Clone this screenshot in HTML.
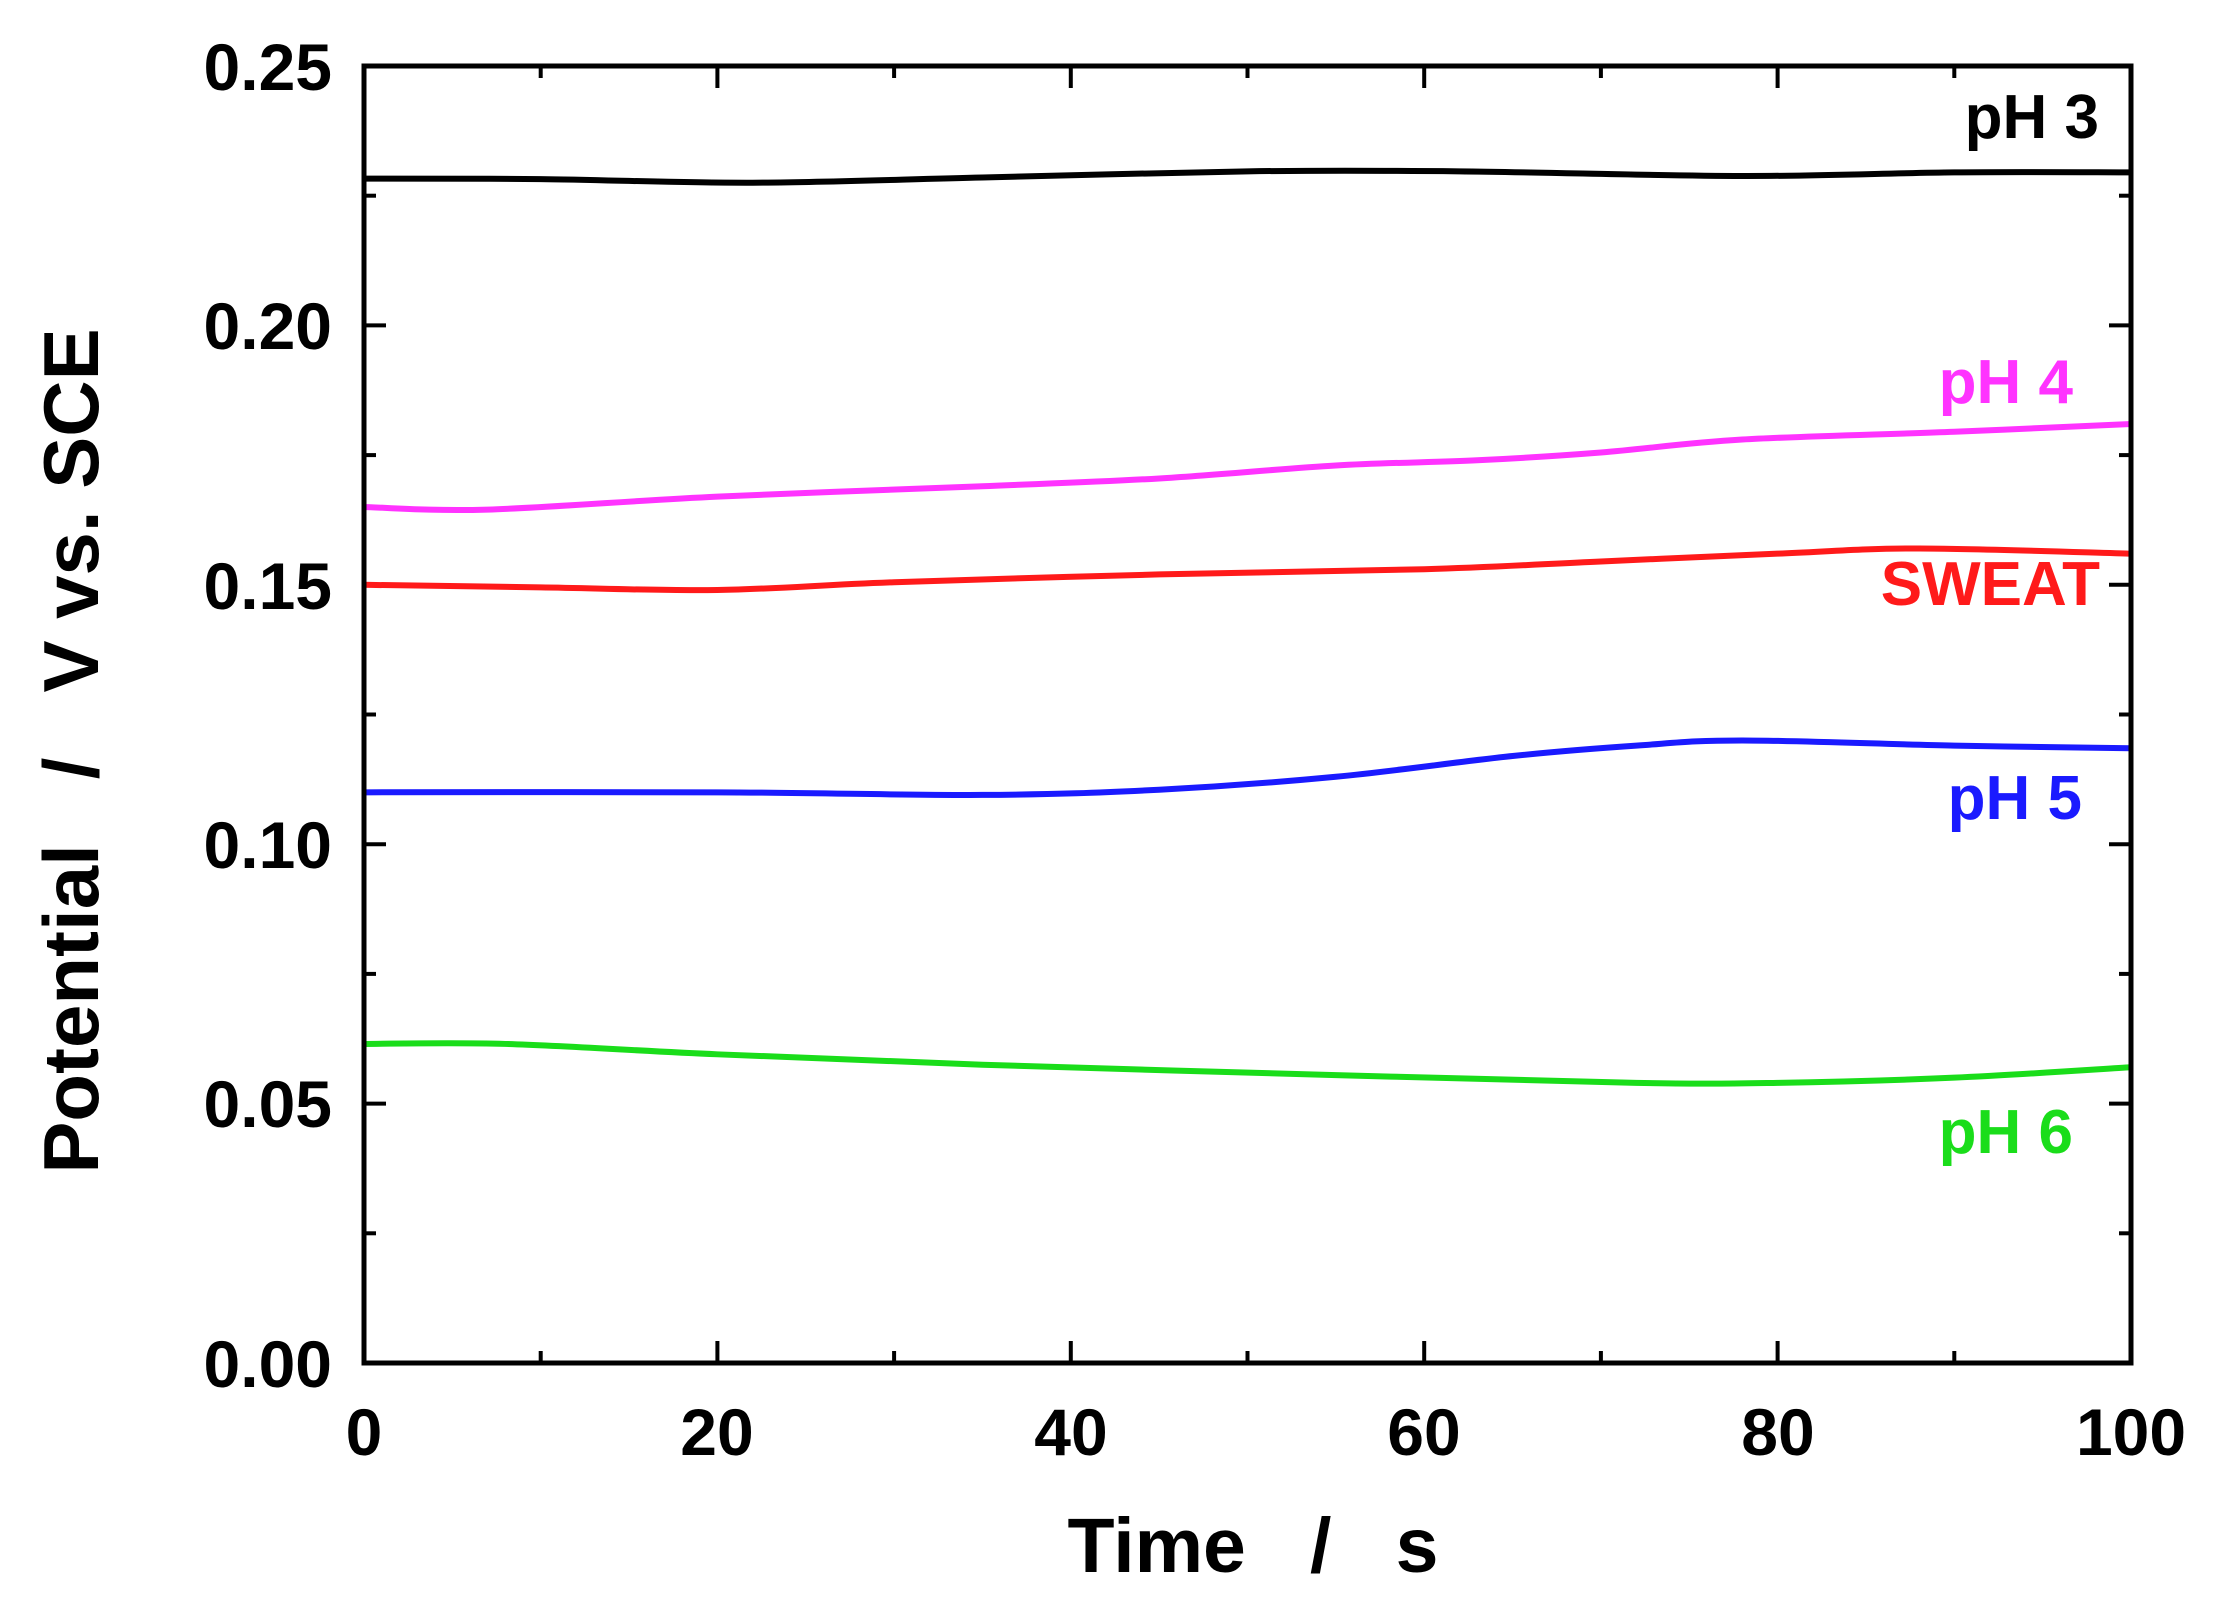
<!DOCTYPE html>
<html><head><meta charset="utf-8"><style>
html,body{margin:0;padding:0;background:#fff;}
svg{display:block;}
text{font-family:"Liberation Sans",Arial,sans-serif;font-weight:bold;}
</style></head><body>
<svg id="s" width="2222" height="1611" viewBox="0 0 2222 1611" xmlns="http://www.w3.org/2000/svg">
<rect width="2222" height="1611" fill="#fff"/>
<g id="ticks" stroke="#000" stroke-width="4"></g>
<g id="series" fill="none" stroke-width="6"></g>
<rect x="364" y="66" width="1767" height="1297" fill="none" stroke="#000" stroke-width="5"/>
<g font-size="66" text-anchor="end">
<text x="332" y="90">0.25</text>
<text x="332" y="349">0.20</text>
<text x="332" y="609">0.15</text>
<text x="332" y="868">0.10</text>
<text x="332" y="1127">0.05</text>
<text x="332" y="1387">0.00</text>
</g>
<g font-size="66" text-anchor="middle">
<text x="364" y="1455">0</text>
<text x="717" y="1455">20</text>
<text x="1071" y="1455">40</text>
<text x="1424" y="1455">60</text>
<text x="1778" y="1455">80</text>
<text x="2131" y="1455">100</text>
</g>
<text x="1253" y="1572" font-size="77" text-anchor="middle" xml:space="preserve">Time   /   s</text>
<text transform="translate(98,751) rotate(-90)" font-size="78" text-anchor="middle" xml:space="preserve">Potential   /   V vs. SCE</text>
<g font-size="62" text-anchor="end">
<text x="2099" y="138" fill="#000">pH 3</text>
<text x="2073" y="403" fill="#ff33ff">pH 4</text>
<text x="2100" y="605" fill="#ff1a1a">SWEAT</text>
<text x="2082" y="819" fill="#1a1aff">pH 5</text>
<text x="2073" y="1153" fill="#1add1a">pH 6</text>
</g>
</svg>
<script>
var L=364,R=2131,T=66,B=1363;
function X(t){return L+(R-L)*t/100;}
function Y(v){return B-(B-T)*v/0.25;}
var tk=document.getElementById('ticks'),h='';
for(var i=0;i<=10;i++){var x=X(i*10),len=i%2?12:22;
h+='<line x1="'+x+'" y1="'+B+'" x2="'+x+'" y2="'+(B-len)+'"/><line x1="'+x+'" y1="'+T+'" x2="'+x+'" y2="'+(T+len)+'"/>';}
for(var i=0;i<=10;i++){var y=Y(i*0.025),len=i%2?12:22;
h+='<line x1="'+L+'" y1="'+y+'" x2="'+(L+len)+'" y2="'+y+'"/><line x1="'+R+'" y1="'+y+'" x2="'+(R-len)+'" y2="'+y+'"/>';}
tk.innerHTML=h;
var S=[
['#000',[[0,.2283],[10,.2282],[22,.2275],[35,.2285],[50,.2297],[62,.2297],[78,.2288],[90,.2295],[100,.2295]]],
['#ff33ff',[[0,.165],[7,.1645],[20,.167],[35,.169],[45,.1705],[55,.173],[63,.174],[70,.1755],[78,.178],[90,.1795],[100,.181]]],
['#ff1a1a',[[0,.150],[10,.1495],[20,.149],[30,.1505],[45,.152],[60,.153],[70,.1545],[80,.156],[88,.157],[100,.156]]],
['#1a1aff',[[0,.110],[20,.110],[35,.1095],[45,.1105],[55,.113],[65,.117],[72,.119],[78,.120],[90,.119],[100,.1185]]],
['#1add1a',[[0,.0615],[8,.0615],[20,.0595],[35,.0575],[55,.0555],[72,.054],[80,.054],[90,.055],[100,.057]]]
];
var g=document.getElementById('series'),o='';
S.forEach(function(s){var p=s[1].map(function(q){return [X(q[0]),Y(q[1])];});
var d='M'+p[0][0]+','+p[0][1];
for(var i=0;i<p.length-1;i++){var p0=p[i-1]||p[i],p1=p[i],p2=p[i+1],p3=p[i+2]||p2;
d+=' C'+(p1[0]+(p2[0]-p0[0])/6)+','+(p1[1]+(p2[1]-p0[1])/6)+' '+(p2[0]-(p3[0]-p1[0])/6)+','+(p2[1]-(p3[1]-p1[1])/6)+' '+p2[0]+','+p2[1];}
o+='<path d="'+d+'" stroke="'+s[0]+'"/>';});
g.innerHTML=o;
</script>
</body></html>
